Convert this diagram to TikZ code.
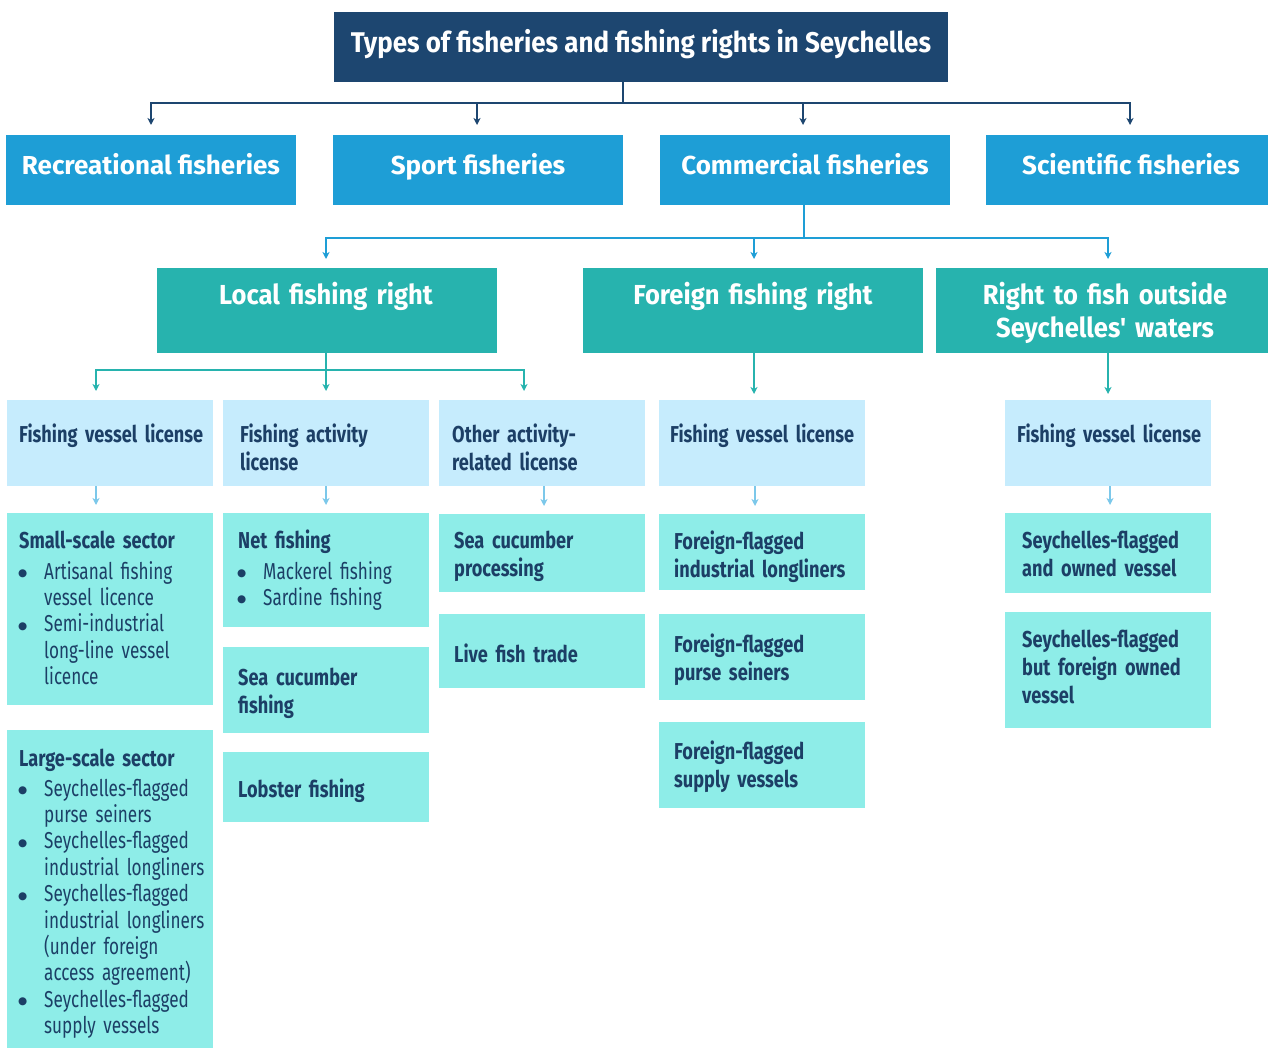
\documentclass[tikz,border=0pt]{standalone}
\usepackage{fontspec}
\setmainfont{Fira Sans}
\newfontfamily\headfont{Fira Sans}[FakeStretch=0.91]
\newfontfamily\ttlfont{Fira Sans}[FakeStretch=0.93,WordSpace=0.85]
\newfontfamily\onefont{Fira Sans}
\newfontfamily\cndfont{Fira Sans}[FakeStretch=0.79,WordSpace=0.75]
\newfontfamily\regfont{Fira Sans}[FakeStretch=0.745,WordSpace=0.8]
\newfontfamily\dvfont{DejaVu Sans}
\usetikzlibrary{arrows.meta}
\definecolor{navy}{HTML}{1D4670}
\definecolor{dtext}{HTML}{1C3F66}
\definecolor{lblue}{HTML}{1E9ED6}
\definecolor{teal2}{HTML}{27B3AE}
\definecolor{pale}{HTML}{C6ECFD}
\definecolor{aqua}{HTML}{8EEDE8}
\definecolor{arrlight}{HTML}{7CC8EA}
\newcommand{\bx}[6]{\node[boxbase,#6,minimum width={(#4-#2)*1pt},minimum height={(#5-#3)*1pt}] (#1) at ({(#2+#4)/2},{(#3+#5)/2}) {};}
\newcommand{\bul}{\makebox[25pt][l]{\hspace*{-1pt}\raisebox{2.6pt}{\dvfont\fontsize{10.5}{10.5}\selectfont ●}}}
\newcommand{\ind}{\hspace*{25pt}}
\tikzset{
  boxbase/.style={rectangle, inner sep=0pt, outer sep=0pt, draw=none},
  bnavy/.style={fill=navy},
  bone/.style={fill=lblue},
  btwo/.style={fill=teal2},
  bthree/.style={fill=pale},
  bfour/.style={fill=aqua},
  ttltext/.style={inner sep=0pt, anchor=base, text=white, font=\headfont\bfseries\fontsize{28.5}{32}\selectfont},
  onetext/.style={inner sep=0pt, anchor=base, text=white, font=\onefont\bfseries\fontsize{26}{30}\selectfont},
  twotext/.style={inner sep=0pt, anchor=base, text=white, text width=320pt, align=center, font=\ttlfont\bfseries\fontsize{27.5}{32.5}\selectfont},
  lowtext/.style={inner sep=0pt, anchor=base west, text=dtext, text width=215pt, align=left, font=\cndfont\bfseries\fontsize{23}{28}\selectfont},
  listtext/.style={inner sep=0pt, anchor=base west, text=dtext, text width=215pt, align=left, font=\regfont\fontsize{23}{26.4}\selectfont},
  tipa/.style={-{Stealth[length=7pt,width=7pt,inset=2pt]}},
  navyln/.style={draw=navy, line width=2pt},
  blueln/.style={draw=lblue, line width=2pt},
  tealln/.style={draw=teal2, line width=2pt},
  lightln/.style={draw=arrlight, line width=2pt},
}
\begin{document}
\begin{tikzpicture}[x=1pt,y=-1pt]
\useasboundingbox (0,0) rectangle (1268,1048);
% boxes
\bx{title}{334}{12}{948}{82}{bnavy}
\bx{rec}{6}{135}{296}{205}{bone}
\bx{sport}{333}{135}{623}{205}{bone}
\bx{comm}{660}{135}{950}{205}{bone}
\bx{sci}{986}{135}{1268}{205}{bone}
\bx{local}{157}{268}{497}{353}{btwo}
\bx{foreign}{583}{268}{923}{353}{btwo}
\bx{outside}{936}{268}{1268}{353}{btwo}
\bx{fvlA}{7}{400}{213}{486}{bthree}
\bx{fal}{223}{400}{429}{486}{bthree}
\bx{oarl}{439}{400}{645}{486}{bthree}
\bx{fvlB}{659}{400}{865}{486}{bthree}
\bx{fvlC}{1005}{400}{1211}{486}{bthree}
\bx{small}{7}{513}{213}{705}{bfour}
\bx{large}{7}{730}{213}{1048}{bfour}
\bx{net}{223}{513}{429}{627}{bfour}
\bx{scf}{223}{647}{429}{733}{bfour}
\bx{lob}{223}{752}{429}{822}{bfour}
\bx{scp}{439}{514}{645}{592}{bfour}
\bx{live}{439}{614}{645}{688}{bfour}
\bx{ffil}{659}{514}{865}{590}{bfour}
\bx{ffps}{659}{614}{865}{700}{bfour}
\bx{ffsv}{659}{722}{865}{808}{bfour}
\bx{sfo}{1005}{513}{1211}{593}{bfour}
\bx{sffo}{1005}{612}{1211}{728}{bfour}
% texts
\node[ttltext] (t-title) at (641,53) {Types of fisheries and fishing rights in Seychelles};
\node[onetext] (t-rec) at (151,175) {Recreational fisheries};
\node[onetext] (t-sport) at (478,175) {Sport fisheries};
\node[onetext] (t-comm) at (805,175) {Commercial fisheries};
\node[onetext] (t-sci) at (1131,175) {Scientific fisheries};
\node[twotext] (t-local) at (326,305) {Local fishing right};
\node[twotext] (t-foreign) at (753,305) {Foreign fishing right};
\node[twotext] (t-outside) at (1105,305) {Right to fish outside\\Seychelles' waters};
\node[lowtext] (t-fvlA) at (19,442) {Fishing vessel license};
\node[lowtext] (t-fal) at (240,442) {Fishing activity\\license};
\node[lowtext] (t-oarl) at (452,442) {Other activity-\\related license};
\node[lowtext] (t-fvlB) at (670,442) {Fishing vessel license};
\node[lowtext] (t-fvlC) at (1017,442) {Fishing vessel license};
\node[listtext] (t-small) at (19,548) {{\cndfont\bfseries Small-scale sector}\\[4.6pt]
\bul Artisanal fishing\\ \ind vessel licence\\ \bul Semi-industrial\\ \ind long-line vessel\\ \ind licence};
\node[listtext] (t-large) at (19,766) {{\cndfont\bfseries Large-scale sector}\\[3.6pt]
\bul Seychelles-flagged\\ \ind purse seiners\\ \bul Seychelles-flagged\\ \ind industrial longliners\\ \bul Seychelles-flagged\\ \ind industrial longliners\\ \ind (under foreign\\ \ind access agreement)\\ \bul Seychelles-flagged\\ \ind supply vessels};
\node[listtext] (t-net) at (238,548) {{\cndfont\bfseries Net fishing}\\[4.6pt]
\bul Mackerel fishing\\ \bul Sardine fishing};
\node[lowtext] (t-scf) at (238,685) {Sea cucumber\\fishing};
\node[lowtext] (t-lob) at (238,797) {Lobster fishing};
\node[lowtext] (t-scp) at (454,548) {Sea cucumber\\processing};
\node[lowtext] (t-live) at (454,662) {Live fish trade};
\node[lowtext] (t-ffil) at (674,549) {Foreign-flagged\\industrial longliners};
\node[lowtext] (t-ffps) at (674,652) {Foreign-flagged\\purse seiners};
\node[lowtext] (t-ffsv) at (674,759) {Foreign-flagged\\supply vessels};
\node[lowtext] (t-sfo) at (1022,548) {Seychelles-flagged\\and owned vessel};
\node[lowtext] (t-sffo) at (1022,647) {Seychelles-flagged\\but foreign owned\\vessel};
% x positions of connectors
\coordinate (tj) at (623,103);
\coordinate (cj) at (804,238);
\coordinate (lj) at (326,370);
\foreach \n/\v in {x151/151,x477/477,x803/803,x1130/1130,x326/326,x754/754,x1108/1108,x96/96,x524/524,x544/544,x755/755,x1110/1110}
  \coordinate (\n) at (\v,0);
% level 0 -> 1
\draw[navyln] (title.south -| tj) -- (tj);
\draw[navyln,tipa,shorten >=10pt] (tj) -| (rec.north -| x151);
\draw[navyln,tipa,shorten >=10pt] (tj) -| (sport.north -| x477);
\draw[navyln,tipa,shorten >=10pt] (tj) -| (comm.north -| x803);
\draw[navyln,tipa,shorten >=10pt] (tj) -| (sci.north -| x1130);
% commercial -> rights
\draw[blueln] (comm.south -| cj) -- (cj);
\draw[blueln,tipa,shorten >=9pt] (cj) -| (local.north -| x326);
\draw[blueln,tipa,shorten >=9pt] (cj) -| (foreign.north -| x754);
\draw[blueln,tipa,shorten >=9pt] (cj) -| (outside.north -| x1108);
% local -> licenses
\draw[tealln] (local.south -| lj) -- (lj);
\draw[tealln,tipa,shorten >=9pt] (lj) -| (fvlA.north -| x96);
\draw[tealln,tipa,shorten >=9pt] (lj) -| (fal.north -| x326);
\draw[tealln,tipa,shorten >=9pt] (lj) -| (oarl.north -| x524);
\draw[tealln,tipa,shorten >=6pt] (foreign.south -| x754) -- (fvlB.north -| x754);
\draw[tealln,tipa,shorten >=6pt] (outside.south -| x1108) -- (fvlC.north -| x1108);
% licenses -> types
\draw[lightln,tipa,shorten >=8pt] (fvlA.south -| x96) -- (small.north -| x96);
\draw[lightln,tipa,shorten >=8pt] (fal.south -| x326) -- (net.north -| x326);
\draw[lightln,tipa,shorten >=8pt] (oarl.south -| x544) -- (scp.north -| x544);
\draw[lightln,tipa,shorten >=8pt] (fvlB.south -| x755) -- (ffil.north -| x755);
\draw[lightln,tipa,shorten >=8pt] (fvlC.south -| x1110) -- (sfo.north -| x1110);
\end{tikzpicture}
\end{document}
